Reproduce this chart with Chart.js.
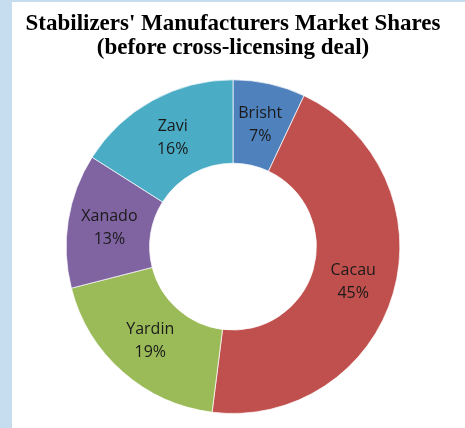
<!DOCTYPE html>
<html lang="en">
<head>
  <meta charset="UTF-8">
  <title>Stabilizers' Manufacturers Market Shares</title>
  <script src="https://cdn.jsdelivr.net/npm/chart.js"></script>
  <style>
    html, body { margin: 0; padding: 0; }
    body { width: 465px; height: 428px; background: #c6ddf0; position: relative; overflow: hidden; }
    .panel { position: absolute; left: 12px; top: 2px; width: 453px; height: 426px; background: #ffffff; }
  </style>
</head>
<body>
  <div class="panel">
    <canvas id="shareChart" width="453" height="426"></canvas>
  </div>

  <script>
    // market shares before the cross-licensing deal (%)
    const companies = ['Brisht', 'Cacau', 'Yardin', 'Xanado', 'Zavi'];
    const shares = [7, 45, 19, 13, 16];
    const sliceColors = ['#4f81bd', '#c0504d', '#9bbb59', '#8064a2', '#4bacc6'];
    const titleLines = ["Stabilizers' Manufacturers Market Shares", '(before cross-licensing deal)'];

    // name + percent written inside each slice
    const sliceLabels = {
      id: 'sliceLabels',
      afterDatasetsDraw(chart) {
        const ctx = chart.ctx;
        const meta = chart.getDatasetMeta(0);
        ctx.save();
        ctx.font = '16px "Open Sans", sans-serif';
        ctx.fillStyle = '#1a1a1a';
        ctx.textAlign = 'center';
        ctx.textBaseline = 'middle';
        meta.data.forEach((arc, i) => {
          const p = arc.getCenterPoint();
          ctx.fillText(companies[i], p.x, p.y - 11);
          ctx.fillText(shares[i] + '%', p.x, p.y + 12);
        });
        ctx.restore();
      }
    };

    new Chart(document.getElementById('shareChart'), {
      type: 'doughnut',
      data: {
        labels: companies,
        datasets: [{
          data: shares,
          backgroundColor: sliceColors,
          borderColor: 'rgba(255,255,255,0.7)',
          borderWidth: 1
        }]
      },
      options: {
        responsive: false,
        animation: false,
        cutout: '50%',
        layout: { padding: { top: 10, left: 0, right: 11, bottom: 14 } },
        plugins: {
          legend: { display: false },
          tooltip: { enabled: false },
          title: {
            display: true,
            text: titleLines,
            color: '#000000',
            font: { family: '"Liberation Serif", "Times New Roman", serif', size: 23, weight: 'bold', lineHeight: 1.05 },
            padding: { top: 0, bottom: 19 }
          }
        }
      },
      plugins: [sliceLabels]
    });
  </script>
</body>
</html>
